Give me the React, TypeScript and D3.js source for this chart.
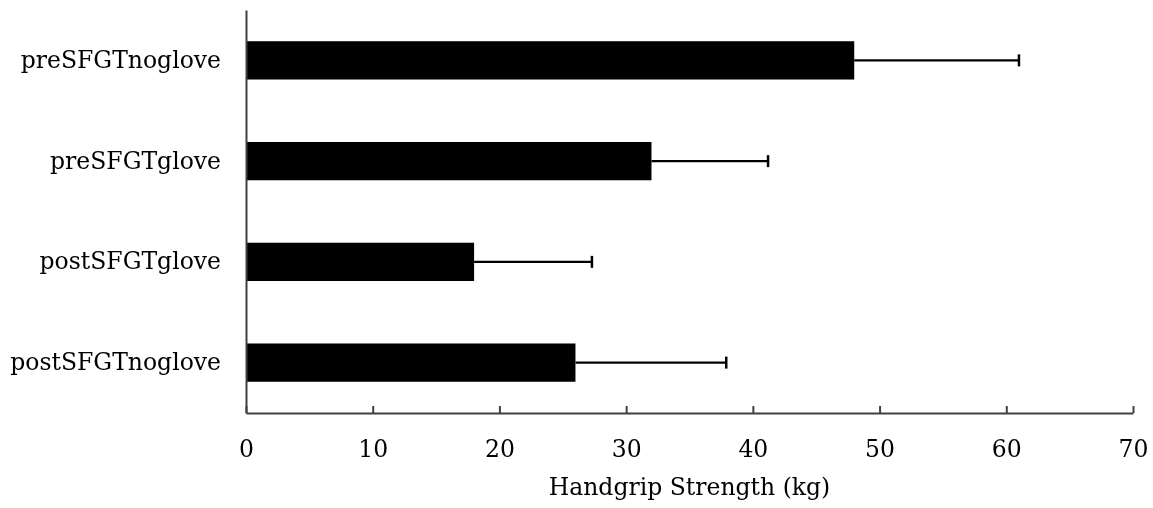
import React, { useEffect, useRef } from "react";
import * as d3 from "d3";

const categories = ["preSFGTnoglove", "preSFGTglove", "postSFGTglove", "postSFGTnoglove"];
const means = [48, 32, 18, 26];
const errors = [13, 9.2, 9.3, 11.9];
const xTicks = [0, 10, 20, 30, 40, 50, 60, 70];

const W = 1153, H = 508;
const FONT = "'DejaVu Serif', serif";
const FS = "23.5px";

export default function App() {
  const ref = useRef<SVGSVGElement>(null);

  useEffect(() => {
    const svg = d3.select(ref.current);
    svg.selectAll("*").remove();

    const left = 246, right = 1133, top = 10, bottom = 413;

    const x = d3.scaleLinear().domain([0, 70]).range([left, right]);
    const y = d3.scaleBand().domain(categories).range([top, bottom]).paddingInner(0.62).paddingOuter(0.31);

    const data = categories.map((c, i) => ({ c, m: means[i], e: errors[i] }));

    // bars
    svg.selectAll(".bar")
      .data(data)
      .join("rect")
      .attr("class", "bar")
      .attr("x", x(0))
      .attr("y", (d) => y(d.c)!)
      .attr("width", (d) => x(d.m) - x(0))
      .attr("height", y.bandwidth())
      .attr("fill", "#000");

    // error bars (plus side only)
    const eb = svg.selectAll(".err").data(data).join("g").attr("class", "err");
    eb.append("line")
      .attr("x1", (d) => x(d.m))
      .attr("x2", (d) => x(d.m + d.e))
      .attr("y1", (d) => y(d.c)! + y.bandwidth() / 2)
      .attr("y2", (d) => y(d.c)! + y.bandwidth() / 2)
      .attr("stroke", "#000")
      .attr("stroke-width", 2.2);
    eb.append("line")
      .attr("x1", (d) => x(d.m + d.e))
      .attr("x2", (d) => x(d.m + d.e))
      .attr("y1", (d) => y(d.c)! + y.bandwidth() / 2 - 6)
      .attr("y2", (d) => y(d.c)! + y.bandwidth() / 2 + 6)
      .attr("stroke", "#000")
      .attr("stroke-width", 2.5);

    // x axis, ticks point inward
    const xa = svg.append("g")
      .attr("transform", `translate(0, ${bottom})`)
      .call(d3.axisBottom(x).tickValues(xTicks).tickSize(-7).tickSizeOuter(0).tickPadding(27));
    xa.select(".domain").attr("stroke", "#404040").attr("stroke-width", 2);
    xa.selectAll(".tick line").attr("stroke", "#404040").attr("stroke-width", 2);
    xa.selectAll(".tick text")
      .attr("fill", "#000")
      .style("font-family", FONT)
      .style("font-size", FS);

    // y axis
    const ya = svg.append("g")
      .attr("transform", `translate(${left}, 0)`)
      .call(d3.axisLeft(y).tickSize(0).tickPadding(25));
    ya.select(".domain").attr("stroke", "#404040").attr("stroke-width", 2);
    ya.selectAll(".tick text")
      .attr("fill", "#000")
      .style("font-family", FONT)
      .style("font-size", FS);

    // axis title
    svg.append("text")
      .attr("x", (left + right) / 2)
      .attr("y", 495)
      .attr("text-anchor", "middle")
      .style("font-family", FONT)
      .style("font-size", FS)
      .text("Handgrip Strength (kg)");
  }, []);

  // pinned to the viewport so the whole 1153x508 area is usable
  return (
    <svg
      ref={ref}
      width={W}
      height={H}
      style={{ position: "fixed", left: 0, top: 0, display: "block" }}
    ></svg>
  );
}
